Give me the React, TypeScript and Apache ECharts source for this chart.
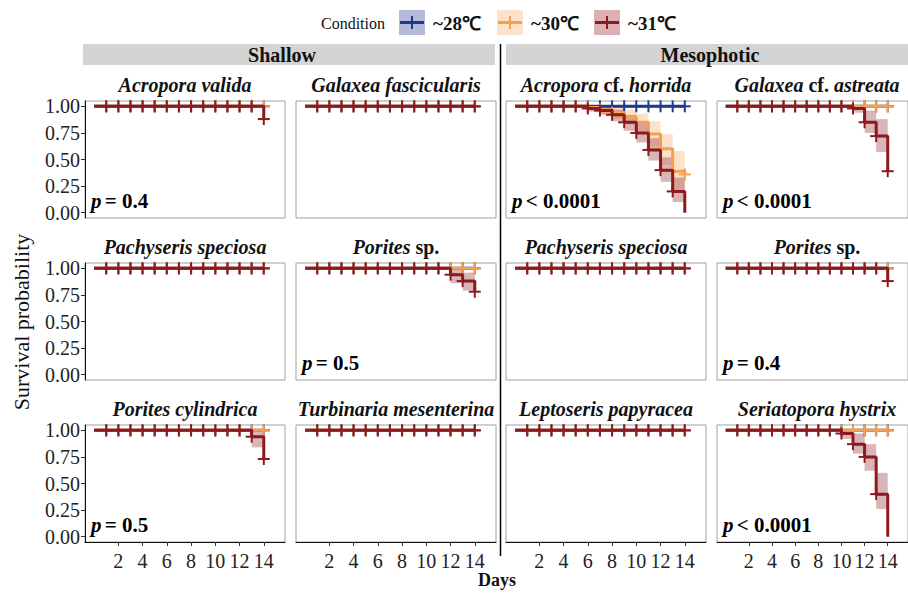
import { useEffect, useRef } from 'react';
import * as echarts from 'echarts';

// ---------- data ----------
const DAYS = [0, 1, 2, 3, 4, 5, 6, 7, 8, 9, 10, 11, 12, 13, 14];
const CONDITIONS = ['~28℃', '~30℃', '~31℃'];
const X_TICKS = [2, 4, 6, 8, 10, 12, 14];
const Y_TICKS = [0, 0.25, 0.5, 0.75, 1];
const SITES = ['Shallow', 'Mesophotic'];

const ALIVE = [1, 1, 1, 1, 1, 1, 1, 1, 1, 1, 1, 1, 1, 1, 1];
const VALIDA_31 = [1, 1, 1, 1, 1, 1, 1, 1, 1, 1, 1, 1, 1, 1, 0.88];
const HORRIDA_30 = [1, 1, 1, 1, 1, 1, 0.99, 0.97, 0.94, 0.9, 0.85, 0.74, 0.6, 0.39, 0.36];
const HORRIDA_31 = [1, 1, 1, 1, 1, 1, 0.98, 0.96, 0.92, 0.85, 0.75, 0.59, 0.4, 0.2, 0];
const ASTREATA_31 = [1, 1, 1, 1, 1, 1, 1, 1, 1, 1, 1, 0.98, 0.85, 0.72, 0.39];
const PORITES_SH_31 = [1, 1, 1, 1, 1, 1, 1, 1, 1, 1, 1, 1, 0.94, 0.88, 0.78];
const PORITES_ME_31 = [1, 1, 1, 1, 1, 1, 1, 1, 1, 1, 1, 1, 1, 1, 0.88];
const CYLINDRICA_31 = [1, 1, 1, 1, 1, 1, 1, 1, 1, 1, 1, 1, 1, 0.94, 0.73];
const SERIATOPORA_31 = [1, 1, 1, 1, 1, 1, 1, 1, 1, 1, 0.97, 0.87, 0.75, 0.4, 0];

// confidence intervals: [fromDay, toDay, lower, upper]
const HORRIDA_30_CI = [[6, 7, 0.97, 1], [7, 8, 0.93, 1], [8, 9, 0.88, 0.99], [9, 10, 0.83, 0.97], [10, 11, 0.77, 0.93], [11, 12, 0.62, 0.86], [12, 13, 0.45, 0.74], [13, 14, 0.2, 0.58]];
const HORRIDA_31_CI = [[6, 7, 0.95, 1], [7, 8, 0.92, 0.99], [8, 9, 0.86, 0.97], [9, 10, 0.77, 0.92], [10, 11, 0.66, 0.84], [11, 12, 0.49, 0.7], [12, 13, 0.29, 0.52], [13, 14, 0.1, 0.33]];
const ASTREATA_31_CI = [[11, 12, 0.94, 1], [12, 13, 0.75, 0.96], [13, 14, 0.57, 0.88]];
const PORITES_SH_31_CI = [[12, 13, 0.86, 1], [13, 14, 0.79, 0.96]];
const CYLINDRICA_31_CI = [[13, 14, 0.84, 1]];
const SERIATOPORA_31_CI = [[10, 11, 0.92, 1], [11, 12, 0.78, 0.97], [12, 13, 0.62, 0.87], [13, 14, 0.26, 0.6]];

const PANEL_TITLES = [
  '{i|Acropora valida}', '{i|Galaxea fascicularis}', '{i|Acropora}{n| cf. }{i|horrida}', '{i|Galaxea}{n| cf. }{i|astreata}',
  '{i|Pachyseris speciosa}', '{i|Porites}{n| sp.}', '{i|Pachyseris speciosa}', '{i|Porites}{n| sp.}',
  '{i|Porites cylindrica}', '{i|Turbinaria mesenterina}', '{i|Leptoseris papyracea}', '{i|Seriatopora hystrix}',
];
const P_VALUES = ['= 0.4', '', '< 0.0001', '< 0.0001', '', '= 0.5', '', '= 0.4', '= 0.5', '', '', '< 0.0001'];

const SURV_28 = [ALIVE, ALIVE, ALIVE, ALIVE, ALIVE, ALIVE, ALIVE, ALIVE, ALIVE, ALIVE, ALIVE, ALIVE];
const SURV_30 = [ALIVE, ALIVE, HORRIDA_30, ALIVE, ALIVE, ALIVE, ALIVE, ALIVE, ALIVE, ALIVE, ALIVE, ALIVE];
const SURV_31 = [VALIDA_31, ALIVE, HORRIDA_31, ASTREATA_31, ALIVE, PORITES_SH_31, ALIVE, PORITES_ME_31, CYLINDRICA_31, ALIVE, ALIVE, SERIATOPORA_31];
const CI_28: number[][][] = [[], [], [], [], [], [], [], [], [], [], [], []];
const CI_30: number[][][] = [[], [], HORRIDA_30_CI, [], [], [], [], [], [], [], [], []];
const CI_31: number[][][] = [[], [], HORRIDA_31_CI, ASTREATA_31_CI, [], PORITES_SH_31_CI, [], [], CYLINDRICA_31_CI, [], [], SERIATOPORA_31_CI];

// ---------- style / layout ----------
const LINE_COLORS = ['#1F3A8C', '#F5A04F', '#8C1A1F'];
const BAND_COLORS = ['rgba(31,58,140,0.32)', 'rgba(245,160,79,0.3)', 'rgba(140,26,31,0.32)'];
const KEY_FILLS = ['#B5BAD9', '#FDE3CB', '#DDB0B6'];
const FONT = '"Liberation Serif", "Times New Roman", serif';
const COL_LEFT = [85, 296, 506, 717];
const ROW_TOP = [101, 263, 425];
const PW = 200;
const PH = 117;

export default function App() {
  const ref = useRef<HTMLDivElement>(null);
  useEffect(() => {
    if (!ref.current) return;
    const chart = echarts.init(ref.current, undefined, { renderer: 'svg' });
    const SURV = [SURV_28, SURV_30, SURV_31];
    const CI = [CI_28, CI_30, CI_31];
    const grids: any[] = [];
    const xAxes: any[] = [];
    const yAxes: any[] = [];
    const series: any[] = [];
    const graphic: any[] = [];

    PANEL_TITLES.forEach((title, p) => {
      const row = Math.floor(p / 4);
      const col = p % 4;
      const left = COL_LEFT[col];
      const top = ROW_TOP[row];
      grids.push({ left, top, width: PW, height: PH, show: true, borderColor: '#a0a0a0', borderWidth: 1, containLabel: false });
      const showX = row === 2;
      const showY = col === 0;
      xAxes.push({
        gridIndex: p, type: 'value', min: -0.75, max: 15.75,
        axisLine: { show: showX, onZero: false, lineStyle: { color: '#111', width: 1 } },
        axisTick: { show: showX, customValues: X_TICKS, length: 4, lineStyle: { color: '#333' } },
        axisLabel: { show: showX, customValues: X_TICKS, margin: 9, color: '#222', fontSize: 20, fontFamily: FONT },
        splitLine: { show: false },
      });
      yAxes.push({
        gridIndex: p, type: 'value', min: -0.05, max: 1.05,
        axisLine: { show: showY, onZero: false, lineStyle: { color: '#111', width: 1 } },
        axisTick: { show: showY, customValues: Y_TICKS, length: 4, lineStyle: { color: '#333' } },
        axisLabel: { show: showY, customValues: Y_TICKS, margin: 5, color: '#222', fontSize: 20, fontFamily: FONT, formatter: (v: number) => v.toFixed(2) },
        splitLine: { show: false },
      });

      // bands
      CONDITIONS.forEach((_, c) => {
        const ci = CI[c][p];
        if (ci.length) {
          series.push({
            type: 'custom', xAxisIndex: p, yAxisIndex: p, z: 1, silent: true,
            encode: { x: [0, 1], y: [2, 3] },
            data: ci,
            renderItem: (_params: any, api: any) => {
              const a = api.coord([api.value(0), api.value(3)]);
              const b = api.coord([api.value(1), api.value(2)]);
              return { type: 'rect', shape: { x: a[0], y: a[1], width: b[0] - a[0], height: b[1] - a[1] }, style: { fill: BAND_COLORS[c] } };
            },
          });
        }
      });
      // lines + censor marks
      CONDITIONS.forEach((name, c) => {
        const s = SURV[c][p];
        series.push({
          type: 'line', name, xAxisIndex: p, yAxisIndex: p, step: 'end', showSymbol: false, silent: true, z: 2 + c * 2,
          data: DAYS.map((d) => [d, s[d]]),
          lineStyle: { color: LINE_COLORS[c], width: 3 }, itemStyle: { color: LINE_COLORS[c] },
        });
        series.push({
          type: 'custom', xAxisIndex: p, yAxisIndex: p, z: 3 + c * 2, silent: true, clip: false,
          encode: { x: 0, y: 1 },
          data: DAYS.filter((d) => d > 0 && s[d] > 0).map((d) => [d, s[d]]),
          renderItem: (_params: any, api: any) => {
            const pt = api.coord([api.value(0), api.value(1)]);
            const st = { stroke: LINE_COLORS[c], lineWidth: 2 };
            return {
              type: 'group', children: [
                { type: 'line', shape: { x1: pt[0] - 6, y1: pt[1], x2: pt[0] + 6, y2: pt[1] }, style: st },
                { type: 'line', shape: { x1: pt[0], y1: pt[1] - 6, x2: pt[0], y2: pt[1] + 6 }, style: st },
              ],
            };
          },
        });
      });

      // panel title
      graphic.push({
        type: 'text', x: left + PW / 2, y: top - 16, z: 10,
        style: {
          text: title, align: 'center', verticalAlign: 'middle',
          rich: {
            i: { fontStyle: 'italic', fontWeight: 'bold', fontSize: 20, fontFamily: FONT, fill: '#111' },
            n: { fontWeight: 'bold', fontSize: 20, fontFamily: FONT, fill: '#111' },
          },
        },
      });
      if (P_VALUES[p]) {
        graphic.push({
          type: 'text', x: left + 6, y: top + PH - 17, z: 10,
          style: {
            text: '{i|p} {n|' + P_VALUES[p] + '}', align: 'left', verticalAlign: 'middle',
            rich: {
              i: { fontStyle: 'italic', fontWeight: 'bold', fontSize: 21, fontFamily: FONT, fill: '#000' },
              n: { fontWeight: 'bold', fontSize: 21, fontFamily: FONT, fill: '#000' },
            },
          },
        });
      }
    });

    // strips
    const strips = [[83, 495, 282], [506, 910, 710]];
    SITES.forEach((site, i) => {
      const [x0, x1, cx] = strips[i];
      graphic.push({ type: 'rect', shape: { x: x0, y: 44, width: x1 - x0, height: 21 }, style: { fill: '#D4D4D4' }, z: 5 });
      graphic.push({ type: 'text', x: cx, y: 55, z: 6, style: { text: site, align: 'center', verticalAlign: 'middle', font: 'bold 20px ' + FONT, fill: '#111' } });
    });
    graphic.push({ type: 'line', shape: { x1: 500.5, y1: 44, x2: 500.5, y2: 556 }, style: { stroke: '#000', lineWidth: 1.5 }, z: 6 });

    // legend
    graphic.push({ type: 'text', x: 321, y: 23, style: { text: 'Condition', align: 'left', verticalAlign: 'middle', font: '16px ' + FONT, fill: '#111' } });
    const keyX = [399, 497, 594];
    CONDITIONS.forEach((name, c) => {
      const kx = keyX[c];
      graphic.push({ type: 'rect', shape: { x: kx, y: 10, width: 26, height: 25 }, style: { fill: KEY_FILLS[c] } });
      graphic.push({ type: 'line', shape: { x1: kx + 1, y1: 22.5, x2: kx + 25, y2: 22.5 }, style: { stroke: LINE_COLORS[c], lineWidth: 3 } });
      graphic.push({ type: 'line', shape: { x1: kx + 13, y1: 16, x2: kx + 13, y2: 29 }, style: { stroke: LINE_COLORS[c], lineWidth: 2 } });
      graphic.push({ type: 'text', x: kx + 34, y: 23, style: { text: name, align: 'left', verticalAlign: 'middle', font: 'bold 19px ' + FONT, fill: '#111' } });
    });

    // axis titles
    graphic.push({ type: 'text', x: 21, y: 322, rotation: Math.PI / 2, style: { text: 'Survival probability', align: 'center', verticalAlign: 'middle', font: '22px ' + FONT, fill: '#111' } });
    graphic.push({ type: 'text', x: 497, y: 580, style: { text: 'Days', align: 'center', verticalAlign: 'middle', font: 'bold 18px ' + FONT, fill: '#111' } });

    chart.setOption({
      animation: false,
      backgroundColor: '#fff',
      grid: grids,
      xAxis: xAxes,
      yAxis: yAxes,
      series,
      graphic,
    });
    return () => chart.dispose();
  }, []);
  return <div ref={ref} style={{ position: 'fixed', left: 0, top: 0, width: 908, height: 593 }} />;
}
